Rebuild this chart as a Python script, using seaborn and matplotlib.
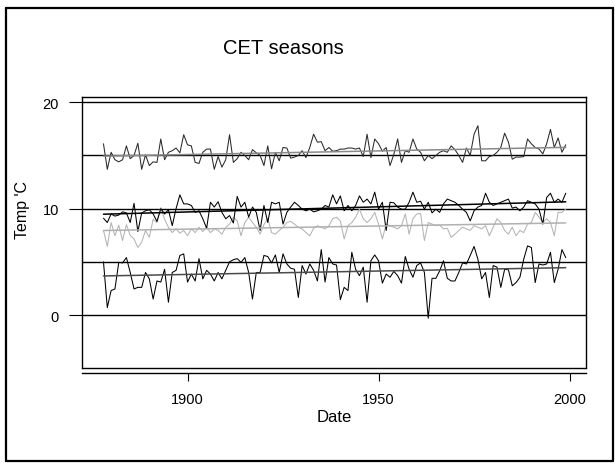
import numpy as np
import pandas as pd
import matplotlib
matplotlib.use("Agg")
import matplotlib.pyplot as plt
import seaborn as sns
from matplotlib.lines import Line2D

# Central England Temperature, seasonal means (deg C), 1878-1999
years = list(range(1878, 2000))

winter = [
    5.0, 0.7, 2.3, 2.45, 4.95, 4.9, 5.4, 4.0, 2.45, 2.6,
    2.6, 4.0, 3.4, 1.5, 3.2, 3.1, 4.3, 1.2, 4.0, 4.2,
    5.6, 5.75, 3.1, 3.85, 3.2, 5.3, 3.4, 4.2, 3.85, 3.2,
    4.0, 3.4, 4.2, 5.0, 5.2, 5.3, 4.95, 5.4, 4.0, 1.5,
    4.0, 4.0, 5.6, 5.5, 4.9, 5.65, 4.0, 5.75, 4.8, 4.4,
    4.3, 1.65, 4.65, 3.85, 4.8, 4.2, 3.2, 6.15, 3.1, 5.4,
    4.8, 4.7, 1.45, 2.6, 2.3, 5.9, 4.3, 3.7, 4.5, 1.2,
    5.1, 5.65, 5.1, 3.0, 3.85, 3.55, 4.1, 3.7, 3.0, 5.5,
    4.3, 3.55, 4.65, 4.9, 4.0, -0.3, 3.45, 3.45, 4.15, 5.1,
    3.45, 3.2, 3.2, 4.0, 4.9, 4.8, 5.6, 6.45, 5.25, 3.4,
    4.0, 1.65, 4.65, 4.5, 2.6, 4.3, 4.25, 2.75, 3.05, 3.55,
    5.25, 6.5, 6.35, 3.05, 4.8, 4.7, 4.8, 5.9, 3.05, 4.3,
    6.15, 5.4,
]

spring = [
    7.95, 6.45, 8.7, 7.45, 8.45, 7.0, 8.5, 7.5, 7.15, 6.35,
    6.85, 7.95, 7.3, 9.0, 8.7, 10.1, 9.0, 8.25, 7.75, 8.1,
    7.7, 7.95, 7.45, 8.1, 7.75, 8.25, 7.85, 8.25, 7.75, 8.1,
    7.95, 7.6, 8.25, 8.55, 9.2, 8.85, 7.45, 8.7, 9.2, 8.7,
    8.25, 7.6, 8.5, 9.1, 7.75, 7.6, 7.95, 8.25, 8.7, 8.8,
    8.55, 8.25, 8.1, 7.75, 7.45, 8.15, 8.4, 8.25, 8.1, 8.4,
    9.05, 9.2, 8.85, 7.15, 8.4, 8.7, 9.2, 9.95, 9.05, 8.7,
    9.05, 9.65, 8.55, 7.15, 8.55, 8.4, 8.25, 8.1, 8.4, 9.5,
    7.6, 9.05, 9.5, 9.55, 7.0, 8.7, 8.55, 8.4, 8.45, 8.1,
    8.15, 7.3, 7.6, 7.95, 8.25, 8.1, 7.95, 8.4, 8.25, 8.1,
    8.4, 7.45, 8.25, 9.05, 8.7, 7.95, 7.6, 8.25, 7.45, 7.95,
    7.75, 8.55, 8.7, 9.65, 9.2, 8.7, 9.05, 8.7, 7.45, 9.65,
    9.65, 9.95,
]

summer = [
    16.1, 13.7, 15.3, 14.6, 14.4, 14.6, 15.9, 14.7, 15.0, 16.15,
    13.7, 15.05, 14.05, 14.4, 14.35, 16.55, 14.6, 15.3, 15.45, 15.7,
    15.25, 16.95, 16.0, 15.9, 14.35, 14.25, 15.3, 15.6, 15.6, 13.7,
    14.9, 13.9, 14.6, 16.95, 14.35, 14.7, 15.3, 15.0, 14.6, 15.55,
    15.25, 15.0, 14.05, 15.9, 13.75, 15.3, 14.5, 15.75, 15.7, 14.75,
    14.85, 15.0, 15.45, 14.8, 15.75, 17.0, 16.25, 16.3, 15.45, 15.75,
    15.4, 15.45, 15.6, 15.6, 15.7, 15.7, 15.6, 15.7, 14.9, 17.0,
    14.8, 16.55, 16.1, 15.4, 15.75, 14.05, 15.1, 16.55, 14.35, 15.45,
    15.3, 16.55, 15.6, 15.3, 14.5, 15.0, 14.7, 15.0, 15.3, 15.45,
    15.3, 15.9, 15.55, 15.0, 14.35, 15.7, 15.0, 17.0, 17.8, 14.5,
    14.5, 14.9, 15.0, 15.3, 15.75, 17.1, 16.25, 14.65, 14.85, 14.85,
    14.9, 16.55, 16.1, 15.75, 15.6, 15.15, 16.1, 17.45, 15.75, 16.65,
    15.3, 16.0,
]

autumn = [
    9.1, 8.7, 9.5, 9.3, 9.4, 9.7, 9.6, 8.7, 10.5, 7.85,
    9.6, 9.8, 9.9, 9.5, 8.8, 10.0, 9.5, 9.9, 8.4, 10.0,
    11.3, 10.45, 10.45, 10.3, 9.65, 9.8, 9.05, 8.15, 10.6, 10.15,
    10.65, 9.65, 9.05, 9.35, 8.65, 11.15, 10.15, 10.6, 9.2, 10.15,
    9.65, 7.95, 10.3, 8.7, 10.6, 10.45, 10.6, 8.55, 9.65, 10.15,
    10.6, 10.3, 9.95, 9.8, 9.95, 9.7, 9.8, 9.95, 10.3, 10.15,
    11.3, 10.45, 11.2, 9.8, 10.3, 9.8, 10.3, 11.2, 10.6, 10.9,
    10.45, 11.55, 9.95, 10.6, 7.95, 10.6, 10.55, 10.15, 9.95, 9.95,
    10.6, 11.55, 10.6, 10.7, 9.95, 10.6, 9.6, 9.95, 9.65, 10.45,
    10.9, 10.75, 10.6, 10.3, 9.95, 9.65, 8.85, 9.8, 10.15, 10.3,
    11.45, 10.6, 10.3, 10.45, 10.6, 10.75, 10.9, 10.05, 10.15, 9.8,
    10.15, 10.75, 10.6, 10.45, 9.95, 8.55, 11.05, 11.45, 10.6, 10.9,
    10.6, 11.45,
]

seasons = ["Spring", "Winter", "Summer", "Autumn"]
season_values = {"Winter": winter, "Spring": spring, "Summer": summer, "Autumn": autumn}
season_colors = {"Winter": "#000000", "Spring": "#b4b4b4", "Summer": "#2a2a2a", "Autumn": "#000000"}
trend_colors = {"Winter": "#4a4a4a", "Spring": "#b0b0b0", "Summer": "#8a8a8a", "Autumn": "#000000"}

title = "CET seasons"
x_label = "Date"
y_label = "Temp 'C"
x_ticks = [1900, 1950, 2000]
y_ticks = [0, 10, 20]
ref_levels = [0, 5, 10, 15, 20]

df = pd.DataFrame({
    "year": years * len(seasons),
    "temp": sum((season_values[s] for s in seasons), []),
    "season": sum(([s] * len(years) for s in seasons), []),
})

sns.set_style("ticks")
plt.rcParams["font.family"] = ["Liberation Sans", "DejaVu Sans"]
plt.rcParams["text.color"] = "black"
plt.rcParams["axes.labelcolor"] = "black"

W, H = 615, 464
fig = plt.figure(figsize=(W / 100, H / 100), dpi=100)
left, right, top, bottom = 81.7, 586.0, 98.3, 369.3
ax = fig.add_axes([left / W, 1 - bottom / H, (right - left) / W, (bottom - top) / H])

# horizontal reference levels
for lv in ref_levels:
    ax.axhline(lv, color="black", lw=1.0, zorder=1)

# seasonal series
sns.lineplot(data=df, x="year", y="temp", hue="season", hue_order=seasons,
             palette=season_colors, lw=0.75, legend=False, estimator=None,
             sort=True, ax=ax, zorder=3)

# linear trends for each season
for s in seasons:
    sub = df[df["season"] == s]
    sns.regplot(data=sub, x="year", y="temp", scatter=False, ci=None,
                truncate=True, color=trend_colors[s],
                line_kws={"lw": 1.1, "zorder": 4}, ax=ax)

ax.set_xlim(1872.3, 2004.3)
ax.set_ylim(-5.01, 20.47)
ax.set_xticks(x_ticks)
ax.set_yticks(y_ticks)
ax.set_xticklabels([str(t) for t in x_ticks])
ax.set_yticklabels([str(t) for t in y_ticks])

for sp in ax.spines.values():
    sp.set_visible(True)
    sp.set_color("black")
    sp.set_linewidth(1.0)
# detached x axis line below the frame
ax.spines["bottom"].set_position(("outward", 3.6))
ax.plot([0, 1], [0, 0], transform=ax.transAxes, color="black", lw=1.0,
        clip_on=False, zorder=5)

ax.tick_params(axis="y", length=9.4, width=0.8, pad=7, labelsize=10.5,
               direction="out", colors="black")
ax.tick_params(axis="x", length=5.5, width=0.8, pad=8, labelsize=10.5,
               direction="out", colors="black")

ax.set_xlabel(x_label, fontsize=12, labelpad=2, color="black")
ax.set_ylabel(y_label, fontsize=11.5, color="black")
ax.yaxis.label.set_verticalalignment("center")
ax.yaxis.set_label_coords((22 - left) / (right - left), (bottom - 210) / (bottom - top))

fig.text(283 / W, 1 - 48 / H, title, ha="center", va="center", fontsize=14.5,
         color="black")

# outer frame of the page
fx0, fy0, fx1, fy1 = 5.5 / W, 1 - 461.5 / H, 612.5 / W, 1 - 8.5 / H
for xs, ys in [([fx0, fx0], [fy0, fy1]), ([fx0, fx1], [fy1, fy1]),
               ([fx1, fx1], [fy0, fy1]), ([fx0, fx1], [fy0, fy0])]:
    fig.add_artist(Line2D(xs, ys, transform=fig.transFigure, color="black", lw=1.6))

fig.savefig("out.png", dpi=100, facecolor="white")
